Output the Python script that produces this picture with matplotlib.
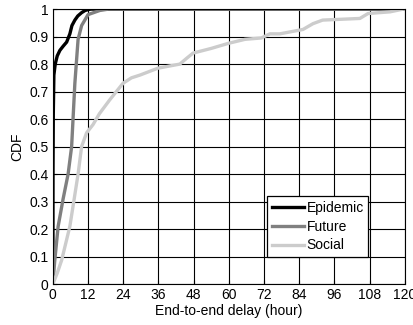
import numpy as np
import matplotlib
matplotlib.use('Agg')
import matplotlib.pyplot as plt

plt.rcParams['font.family'] = ['Liberation Sans', 'DejaVu Sans']

# delay (hours) vs CDF for each routing scheme
epidemic_x = [0, 0.05, 0.15, 0.35, 0.8, 1.5, 2.4, 3.5, 4.7, 5.8, 6.5, 7.5, 8.5, 9.8, 11, 12, 13, 120]
epidemic_y = [0, 0.42, 0.62, 0.76, 0.80, 0.83, 0.85, 0.865, 0.88, 0.91, 0.94, 0.96, 0.975, 0.987, 0.995, 0.998, 1.0, 1.0]

future_x = [0, 0.6, 1.8, 3.5, 5.2, 6.4, 7.5, 8.6, 9.8, 12, 16, 19, 120]
future_y = [0, 0.08, 0.21, 0.31, 0.40, 0.50, 0.73, 0.89, 0.94, 0.98, 0.995, 1.0, 1.0]

social_x = [0, 1.5, 3.0, 5.8, 8.6, 9.8, 11.5, 13.7, 15.9, 19.4, 23.9, 26.8, 29.7, 35.8, 43.3,
            45.5, 47.8, 54, 59.7, 65.5, 71.1, 74, 77.4, 85.3, 88.7, 92, 104.7, 107.5, 115, 119.5, 120]
social_y = [0, 0.04, 0.087, 0.21, 0.40, 0.50, 0.55, 0.58, 0.62, 0.67, 0.73, 0.75, 0.76, 0.785, 0.80,
            0.82, 0.84, 0.857, 0.875, 0.89, 0.895, 0.91, 0.91, 0.926, 0.947, 0.96, 0.966, 0.984, 0.99, 1.0, 1.0]

names = ['Epidemic', 'Future', 'Social']
colors = ['black', '#808080', '#cccccc']

xticks = list(range(0, 121, 12))
yticks = [round(v * 0.1, 1) for v in range(11)]
ytick_labels = ['0'] + ['%.1f' % v for v in yticks[1:-1]] + ['1']

fig = plt.figure(figsize=[4.13, 3.25], dpi=100)
ax = fig.add_axes([0.128, 0.126, 0.852, 0.846])

for xs, ys, name, c in zip([epidemic_x, future_x, social_x],
                           [epidemic_y, future_y, social_y], names, colors):
    ax.plot(xs, ys, color=c, lw=2.4, label=name, solid_joinstyle='round')

ax.set_xlim(0, 120)
ax.set_ylim(0, 1)
ax.set_xticks(xticks)
ax.set_xticklabels([str(v) for v in xticks])
ax.set_yticks(yticks)
ax.set_yticklabels(ytick_labels)
ax.grid(True, color='black', lw=0.8, ls='-')
ax.tick_params(direction='in', length=3, labelsize=10, pad=3)
for s in ax.spines.values():
    s.set_linewidth(0.8)

ax.set_xlabel('End-to-end delay (hour)', fontsize=10, labelpad=1)
ax.set_ylabel('CDF', fontsize=10, labelpad=4)

leg = ax.legend(loc='lower right', bbox_to_anchor=(0.895, 0.1), fontsize=10,
                fancybox=False, framealpha=1, edgecolor='black', borderpad=0.3,
                handlelength=2.3, handletextpad=0.2, labelspacing=0.35, borderaxespad=0)
leg.get_frame().set_linewidth(0.9)

plt.savefig('out.png', dpi=100)
